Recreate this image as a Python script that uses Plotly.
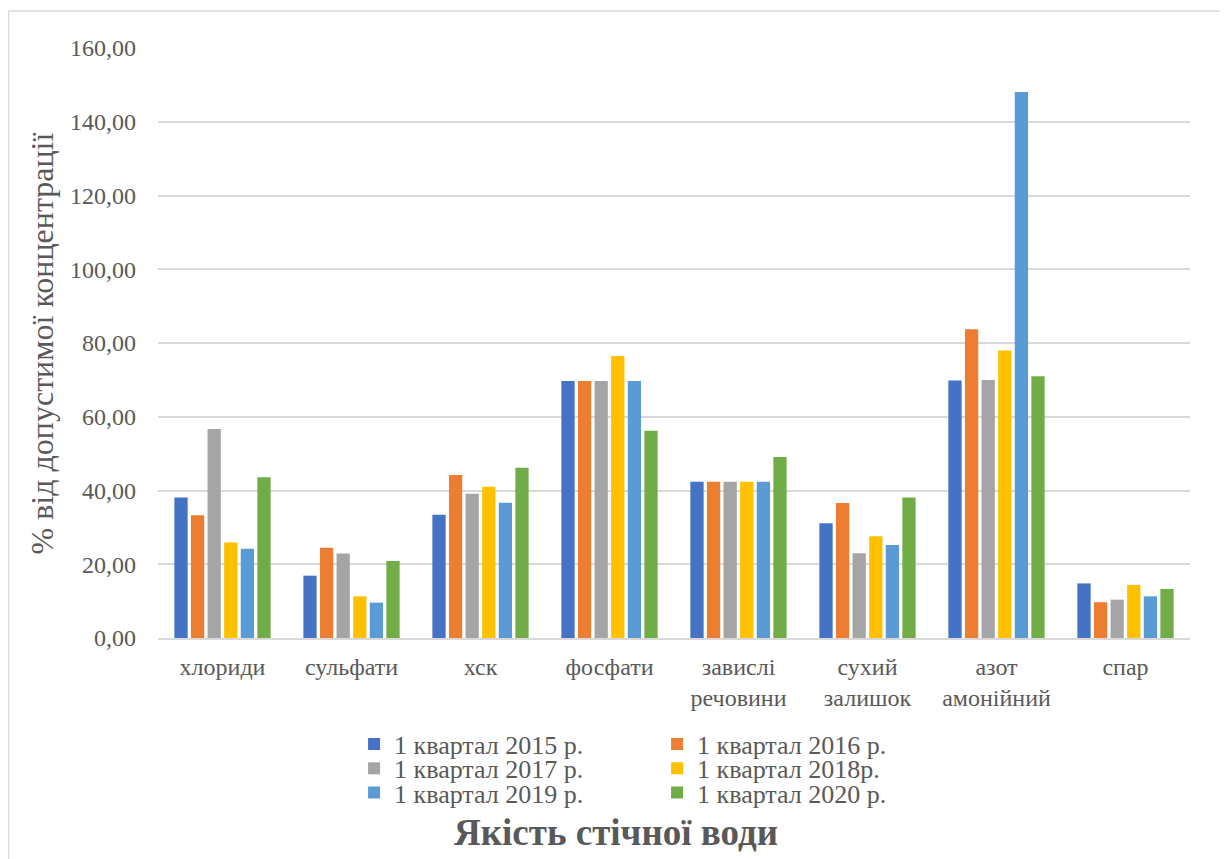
import plotly.graph_objects as go

categories = ["хлориди", "сульфати", "хск", "фосфати", "завислі<br>речовини",
              "сухий<br>залишок", "азот<br>амонійний", "спар"]
series_names = ["1 квартал 2015 р.", "1 квартал 2016 р.", "1 квартал 2017 р.",
                "1 квартал 2018р.", "1 квартал 2019 р.", "1 квартал 2020 р."]
v2015 = [38.1, 16.9, 33.4, 69.7, 42.4, 31.1, 69.8, 14.8]
v2016 = [33.3, 24.5, 44.2, 69.7, 42.4, 36.6, 83.7, 9.7]
v2017 = [56.7, 22.9, 39.1, 69.7, 42.4, 23.0, 70.0, 10.4]
v2018 = [25.9, 11.3, 41.0, 76.5, 42.4, 27.6, 78.0, 14.4]
v2019 = [24.2, 9.6, 36.7, 69.7, 42.4, 25.2, 148.1, 11.3]
v2020 = [43.6, 20.9, 46.2, 56.2, 49.1, 38.1, 71.0, 13.3]
tick_vals = [0, 20, 40, 60, 80, 100, 120, 140, 160]
tick_text = ["0,00", "20,00", "40,00", "60,00", "80,00", "100,00", "120,00", "140,00", "160,00"]

values = [v2015, v2016, v2017, v2018, v2019, v2020]
colors = ["#4472C4", "#ED7D31", "#A5A5A5", "#FFC000", "#5B9BD5", "#70AD47"]
legend_ids = ["legend", "legend", "legend2", "legend2", "legend3", "legend3"]

FONT = "Liberation Serif, Times New Roman, DejaVu Serif, serif"
TXT = "#595959"

fig = go.Figure()
for name, vals, col, lg in zip(series_names, values, colors, legend_ids):
    fig.add_trace(go.Bar(x=categories, y=vals, name=name, marker_color=col,
                         marker_line_width=0, legend=lg))

leg_common = dict(orientation="h", xanchor="left", yanchor="middle",
                  font=dict(family=FONT, size=26, color=TXT),
                  entrywidth=258, entrywidthmode="pixels",
                  bgcolor="rgba(0,0,0,0)", itemclick=False, tracegroupgap=0)

fig.update_layout(
    width=1220, height=851,
    margin=dict(l=150, r=38, t=40, b=221),
    paper_bgcolor="white", plot_bgcolor="white",
    barmode="group", bargap=0.228, bargroupgap=0.2,
    font=dict(family=FONT, color=TXT),
    xaxis=dict(showgrid=False, showline=True, linecolor="#D9D9D9", linewidth=1.5,
               tickfont=dict(family=FONT, size=24, color=TXT), ticks="",
               ticklabelstandoff=6),
    yaxis=dict(range=[0, 160], tickvals=tick_vals, ticktext=tick_text,
               showgrid=True, gridcolor="#D9D9D9", gridwidth=1.5, zeroline=False,
               showline=False, ticks="", ticklabelstandoff=21,
               tickfont=dict(family=FONT, size=24, color=TXT)),
    legend=dict(x=0.19, y=-0.18, **leg_common),
    legend2=dict(x=0.19, y=-0.221, **leg_common),
    legend3=dict(x=0.19, y=-0.262, **leg_common),
    annotations=[
        dict(text="% від допустимої концентрації", textangle=-90,
             xref="paper", yref="paper", x=-0.112, y=0.5,
             xanchor="center", yanchor="middle", showarrow=False,
             font=dict(family=FONT, size=32, color=TXT)),
        dict(text="<b>Якість стічної води</b>",
             xref="paper", yref="paper", x=0.444, y=-0.329,
             xanchor="center", yanchor="middle", showarrow=False,
             font=dict(family=FONT, size=37, color=TXT)),
    ],
    shapes=[dict(type="rect", xref="paper", yref="paper",
                 x0=-0.1449, x1=1.0359, y0=-0.4, y1=1.0627,
                 line=dict(color="#D9D9D9", width=1.5), fillcolor="rgba(0,0,0,0)",
                 layer="below")],
    showlegend=True,
)

fig.write_html("out.html")
